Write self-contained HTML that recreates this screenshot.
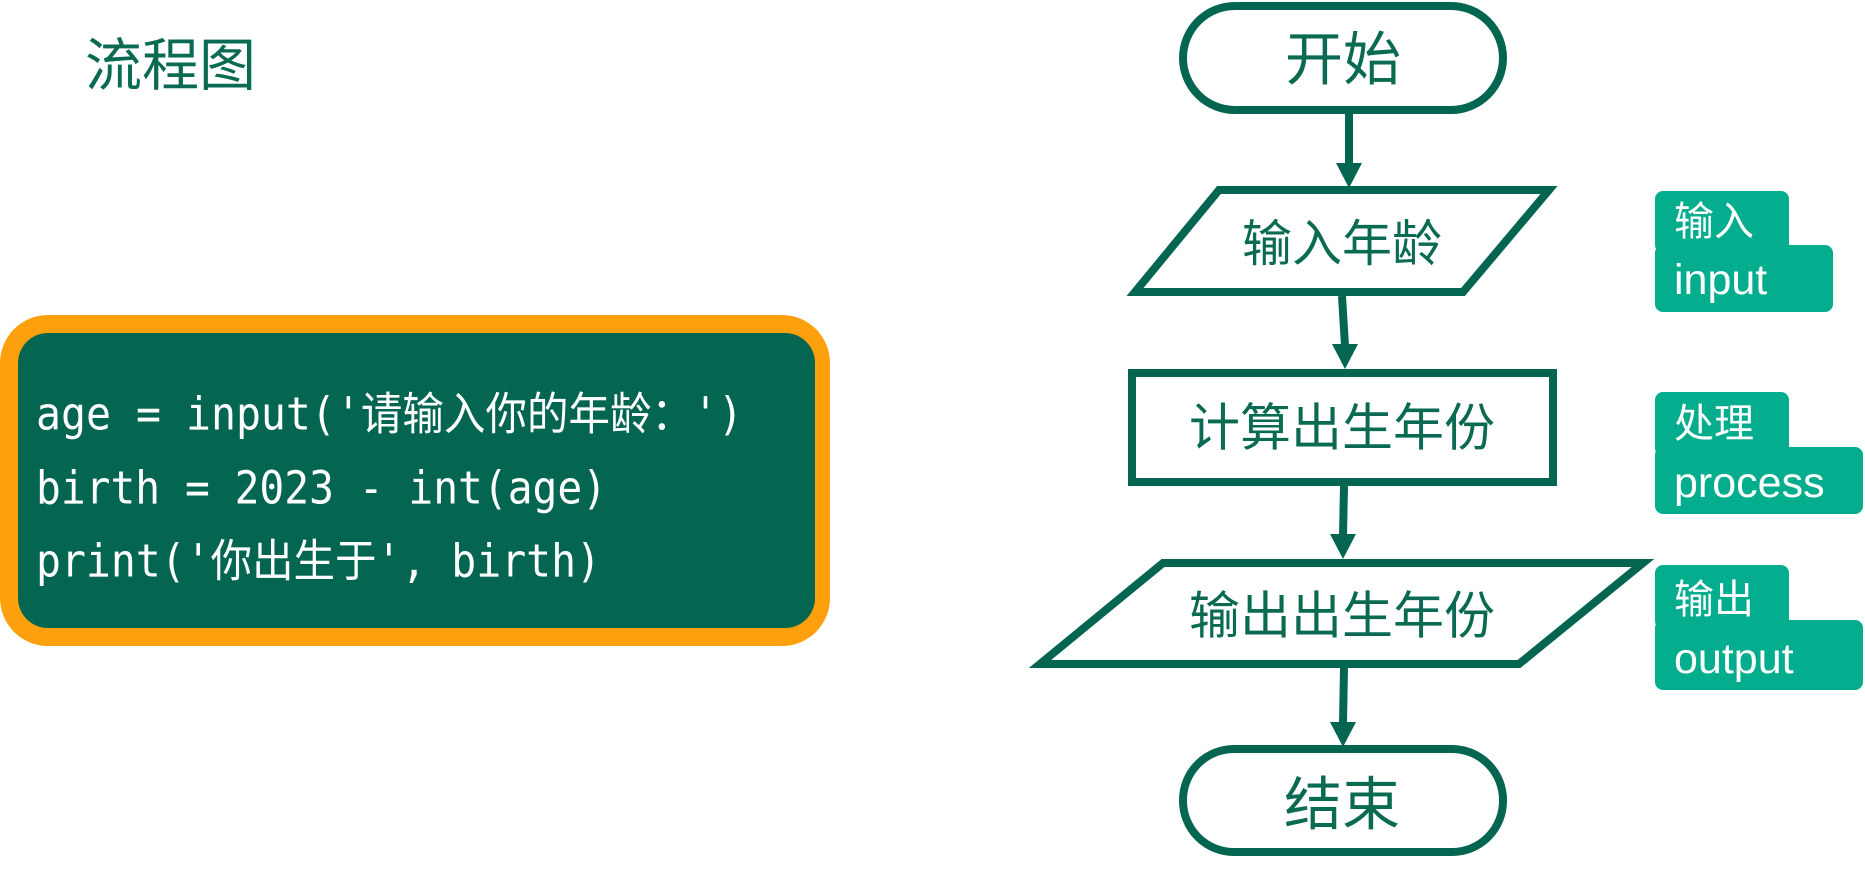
<!DOCTYPE html>
<html><head><meta charset="utf-8"><style>
html,body{margin:0;padding:0;background:#fff;}
svg{display:block;}
text{font-family:"Liberation Sans","Noto Sans CJK SC",sans-serif;}
.code{font-family:"DejaVu Sans Mono","Noto Sans CJK SC",monospace;fill:#fff;font-size:45px;}
</style></head><body>
<svg width="1865" height="872" viewBox="0 0 1865 872" xmlns="http://www.w3.org/2000/svg">
<text x="85" y="66" font-size="57" fill="#0a6b52" dominant-baseline="central">流程图</text>

<rect x="0" y="315" width="830" height="331" rx="48" fill="#fca10d"/>
<rect x="18" y="333" width="797" height="295" rx="30" fill="#046650"/>
<text class="code" x="36" y="414" dominant-baseline="central" textLength="707" lengthAdjust="spacingAndGlyphs">age = input('请输入你的年龄：')</text>
<text class="code" x="36" y="488" dominant-baseline="central" textLength="571" lengthAdjust="spacingAndGlyphs">birth = 2023 - int(age)</text>
<text class="code" x="36" y="561" dominant-baseline="central" textLength="565" lengthAdjust="spacingAndGlyphs">print('你出生于', birth)</text>

<g fill="none" stroke="#046650" stroke-width="8">
<rect x="1183" y="6" width="320" height="104" rx="52"/>
<polygon points="1219,190 1549,190 1463,292 1135,292"/>
<rect x="1132" y="373" width="421" height="109"/>
<polygon points="1163,563 1643,563 1519,664 1040,664"/>
<rect x="1183" y="749" width="320" height="103" rx="51"/>
<line x1="1349" y1="110" x2="1349" y2="165"/>
<line x1="1342" y1="296" x2="1345" y2="346"/>
<line x1="1344" y1="486" x2="1343" y2="536"/>
<line x1="1344" y1="668" x2="1343" y2="724"/>
</g>
<g fill="#046650">
<polygon points="1336,163 1362,163 1349,188"/>
<polygon points="1332,344 1358,344 1345,369"/>
<polygon points="1330,534 1356,534 1343,559"/>
<polygon points="1330,722 1356,722 1343,747"/>
</g>
<g fill="#0a6b52" text-anchor="middle" dominant-baseline="central">
<text x="1343" y="60" font-size="58">开始</text>
<text x="1342" y="244" font-size="50">输入年龄</text>
<text x="1342" y="428" font-size="51">计算出生年份</text>
<text x="1342" y="616" font-size="51">输出出生年份</text>
<text x="1342" y="805" font-size="58">结束</text>
</g>

<g fill="#03ad8d">
<rect x="1655" y="191" width="134" height="62" rx="8"/>
<rect x="1655" y="245" width="178" height="67" rx="8"/>
<rect x="1655" y="392" width="134" height="64" rx="8"/>
<rect x="1655" y="447" width="208" height="67" rx="8"/>
<rect x="1655" y="565" width="134" height="64" rx="8"/>
<rect x="1655" y="620" width="208" height="70" rx="8"/>
</g>
<g fill="#fff" dominant-baseline="central">
<text x="1674" y="222" font-size="40">输入</text>
<text x="1674" y="280" font-size="43">input</text>
<text x="1674" y="424" font-size="40">处理</text>
<text x="1674" y="483" font-size="43">process</text>
<text x="1674" y="600" font-size="40">输出</text>
<text x="1674" y="659" font-size="43">output</text>
</g>
</svg>
</body></html>
